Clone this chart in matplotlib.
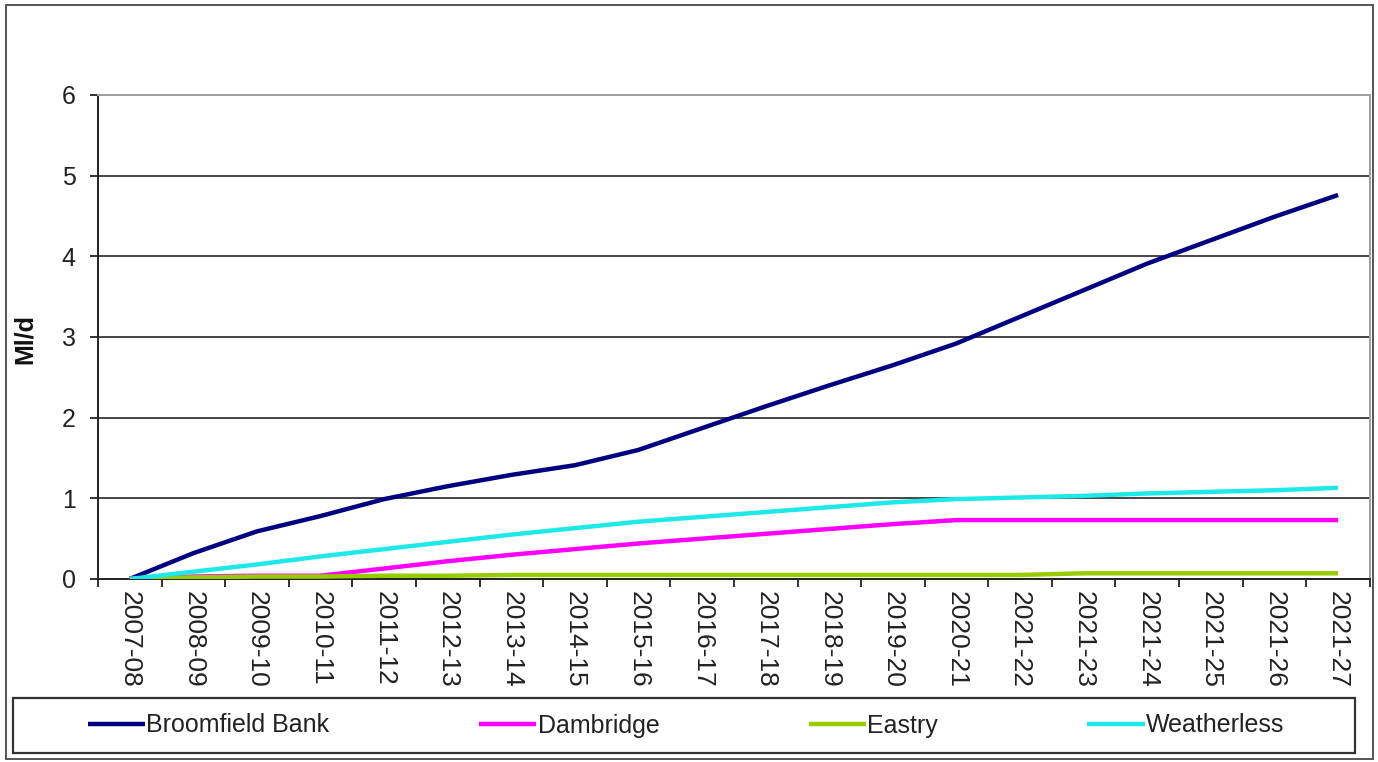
import matplotlib
matplotlib.use("Agg")
import matplotlib.pyplot as plt
from matplotlib.patches import Rectangle
import numpy as np

plt.rcParams['font.family'] = ['Liberation Sans', 'DejaVu Sans']

years = ['2007-08', '2008-09', '2009-10', '2010-11', '2011-12', '2012-13',
         '2013-14', '2014-15', '2015-16', '2016-17', '2017-18', '2018-19',
         '2019-20', '2020-21', '2021-22', '2021-23', '2021-24', '2021-25',
         '2021-26', '2021-27']

broomfield = [0, 0.32, 0.59, 0.78, 0.99, 1.15, 1.29, 1.41, 1.60, 1.87,
              2.14, 2.40, 2.65, 2.92, 3.25, 3.58, 3.91, 4.20, 4.49, 4.76]
dambridge = [0, 0.03, 0.04, 0.04, 0.13, 0.22, 0.30, 0.37, 0.44, 0.50,
             0.56, 0.62, 0.68, 0.73, 0.73, 0.73, 0.73, 0.73, 0.73, 0.73]
eastry = [0, 0.02, 0.03, 0.03, 0.04, 0.04, 0.05, 0.05, 0.05, 0.05,
          0.05, 0.05, 0.05, 0.05, 0.05, 0.07, 0.07, 0.07, 0.07, 0.07]
weatherless = [0, 0.09, 0.18, 0.28, 0.37, 0.46, 0.55, 0.63, 0.71, 0.77,
               0.83, 0.89, 0.95, 0.99, 1.01, 1.03, 1.06, 1.08, 1.10, 1.13]

series = [('Broomfield Bank', broomfield, '#000080'),
          ('Dambridge', dambridge, '#FF00FF'),
          ('Eastry', eastry, '#99CC00'),
          ('Weatherless', weatherless, '#1EE8E8')]

fig = plt.figure(figsize=(13.78, 7.62), dpi=100)
ax = fig.add_axes([0.0711, 0.2402, 0.923, 0.6352])

x = np.arange(len(years))
handles = []
for name, vals, col in series:
    h, = ax.plot(x, vals, color=col, lw=3.2, label=name, zorder=3,
                 solid_capstyle='butt')
    handles.append(h)

ax.set_xlim(-0.5, len(years) - 0.5)
ax.set_ylim(0, 6)
ax.set_yticks(range(0, 7))
ax.yaxis.grid(True, color='#444444', lw=1.4)
ax.set_axisbelow(True)

# category labels in the middle, tick marks on the boundaries
ax.set_xticks(x)
ax.set_xticklabels(years, rotation=270, va='top', ha='center')
ax.set_xticks(np.arange(-0.5, len(years)), minor=True)
ax.tick_params(axis='x', which='major', length=0, pad=9, labelsize=19,
               colors='#222222')
ax.tick_params(axis='x', which='minor', length=6, width=1.3, direction='out',
               color='#222222')
ax.tick_params(axis='y', length=6, width=1.3, pad=10, labelsize=18,
               colors='#222222')

for side in ['left', 'bottom']:
    ax.spines[side].set_color('#222222')
    ax.spines[side].set_linewidth(1.4)
for side in ['top', 'right']:
    ax.spines[side].set_color('#a0a0a0')
    ax.spines[side].set_linewidth(1.4)

fig.text(25 / 1378, 0.555, 'Ml/d', rotation=90, ha='center', va='center',
         fontsize=18, fontweight='bold', color='#111111')

# outer chart border and legend box
fig.patches.append(Rectangle((6 / 1378, 3 / 762), 1367 / 1378, 754 / 762,
                             transform=fig.transFigure, fill=False,
                             edgecolor='#555555', lw=1.4))
fig.patches.append(Rectangle((13 / 1378, 1 - 753 / 762), 1342 / 1378,
                             55 / 762, transform=fig.transFigure, fill=False,
                             edgecolor='#333333', lw=1.6))

leg = fig.legend(handles=handles, loc='center', ncol=4,
                 bbox_to_anchor=(686 / 1378, 1 - 725.5 / 762),
                 frameon=False, fontsize=18, handlelength=2.3,
                 handletextpad=0.05, columnspacing=5.97)
for t in leg.get_texts():
    t.set_color('#222222')
for h in leg.get_lines():
    h.set_linewidth(3.2)

fig.savefig('out.png', dpi=100)
